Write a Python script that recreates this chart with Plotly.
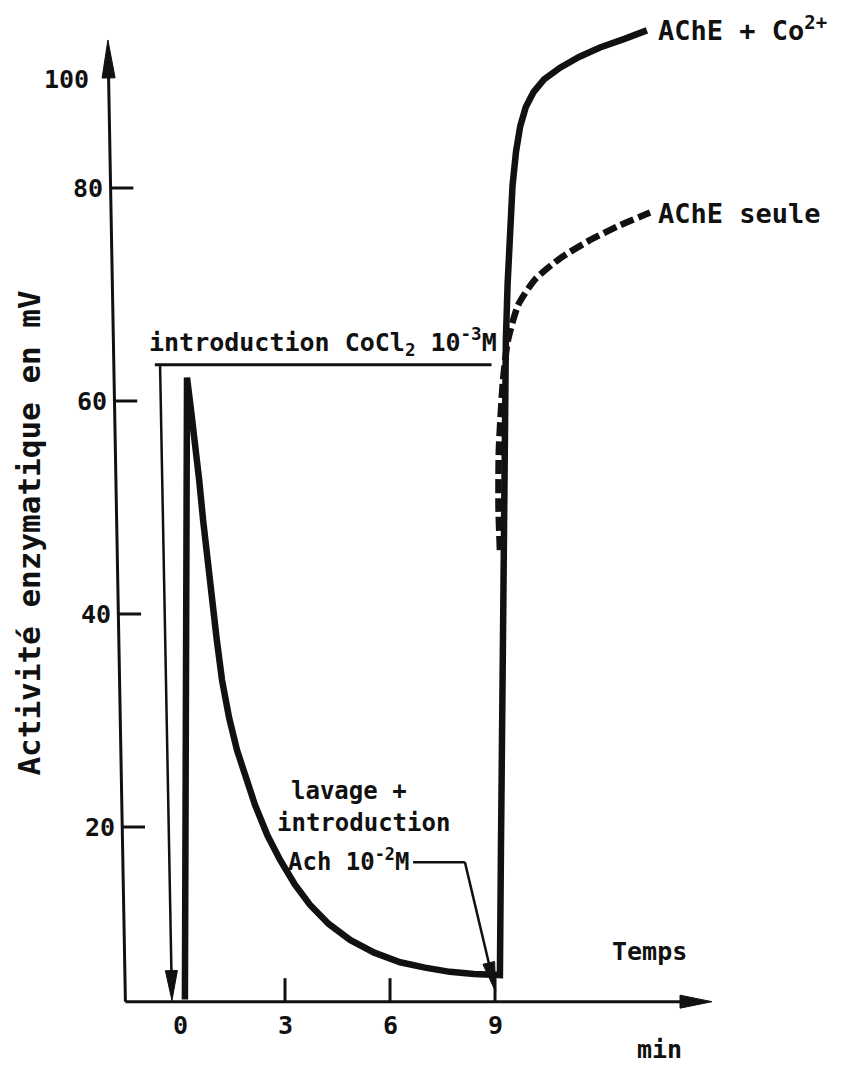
import plotly.graph_objects as go

# Enzymatic activity (mV) versus time (min)
t_co = [0.14, 0.20, 0.32, 0.43, 0.55, 0.66, 0.78, 0.91, 1.05, 1.20, 1.40, 1.63, 1.88, 2.14,
        2.50, 2.86, 3.28, 3.71, 4.25, 4.86, 5.55, 6.29, 7.00, 7.71, 8.40, 9.06,
        9.14, 9.17, 9.20, 9.26, 9.31, 9.36, 9.42, 9.50, 9.60, 9.72, 9.88, 10.10,
        10.40, 10.86, 11.40, 12.00, 12.70, 13.34]
v_co = [3.8, 62.2, 59.0, 56.3, 52.5, 48.8, 45.0, 41.3, 37.6, 33.8, 30.3, 27.2, 24.5, 22.1,
        19.2, 16.9, 14.6, 12.7, 10.9, 9.4, 8.2, 7.3, 6.8, 6.4, 6.2, 6.1,
        6.1, 18.0, 31.9, 55.4, 65.7, 71.0, 76.0, 80.2, 83.4, 85.8, 87.6, 89.0,
        90.2, 91.3, 92.3, 93.2, 94.0, 94.8]
t_seule = [9.14, 9.10, 9.11, 9.23, 9.37, 9.66, 10.14, 10.86, 11.71, 12.57, 13.43]
v_seule = [46.0, 50.0, 55.4, 62.0, 65.7, 69.0, 71.4, 73.4, 75.1, 76.5, 77.7]

x_ticks = [3, 6, 9]
x_labels = ["0", "3", "6", "9"]
x_label_pos = [0, 3, 6, 9]
y_ticks = [20, 40, 60, 80]
y_labels = ["20", "40", "60", "80"]

FONT = "DejaVu Sans Mono"
INK = "#111111"

X_RANGE = [-5.143, 19.257]
Y_RANGE = [-2.441, 97.653]
W, H = 854, 1066
PX_X = W / (X_RANGE[1] - X_RANGE[0])   # pixels per minute
PX_Y = H / (Y_RANGE[1] - Y_RANGE[0])   # pixels per mV

# plotting frame (data units)
X0, Y0 = -1.56, 3.6          # axis origin
X_END = 15.2                 # x-axis arrow tip
Y_END, X_TOP = 93.9, -2.06   # y-axis arrow tip (axis leans slightly)


def axis_x_at(v):
    return X0 + (X_TOP - X0) * (v - Y0) / (Y_END - Y0)


shapes = []


def arrow(x_tail, y_tail, x_tip, y_tip, width, head_len, head_half):
    """Straight shaft plus a slender filled head, sized in pixels."""
    dxp = (x_tip - x_tail) * PX_X
    dyp = (y_tip - y_tail) * PX_Y
    n = (dxp ** 2 + dyp ** 2) ** 0.5
    ux, uy = dxp / n, dyp / n
    bx = x_tip - ux * head_len / PX_X
    by = y_tip - uy * head_len / PX_Y
    px_, py_ = -uy, ux
    lx, ly = bx + px_ * head_half / PX_X, by + py_ * head_half / PX_Y
    rx, ry = bx - px_ * head_half / PX_X, by - py_ * head_half / PX_Y
    shapes.append(dict(type="line", x0=x_tail, y0=y_tail,
                       x1=x_tip - ux * head_len * 0.6 / PX_X, y1=y_tip - uy * head_len * 0.6 / PX_Y,
                       line=dict(color=INK, width=width)))
    shapes.append(dict(type="path", path=f"M{x_tip},{y_tip} L{lx},{ly} L{rx},{ry} Z",
                       fillcolor=INK, line=dict(color=INK, width=1)))


fig = go.Figure()

fig.add_trace(go.Scatter(x=t_co, y=v_co, mode="lines",
                         line=dict(color=INK, width=6.5, shape="linear"),
                         hoverinfo="skip", showlegend=False))
fig.add_trace(go.Scatter(x=t_seule, y=v_seule, mode="lines",
                         line=dict(color=INK, width=6.5, dash="14px,5px", shape="spline", smoothing=0.6),
                         hoverinfo="skip", showlegend=False))

# tick marks
for xv in x_ticks:
    shapes.append(dict(type="line", x0=xv, x1=xv, y0=Y0, y1=Y0 + 2.2,
                       line=dict(color=INK, width=3)))
for yv in y_ticks:
    xa = axis_x_at(yv)
    shapes.append(dict(type="line", x0=xa, x1=xa + 0.65, y0=yv, y1=yv,
                       line=dict(color=INK, width=3)))

# axes with arrowheads
arrow(X0, Y0, X_END, Y0, 3, 32, 6.5)
arrow(X0, Y0, X_TOP, Y_END, 3, 38, 6.5)

# bracket marking the CoCl2 introduction and its arrow down to the time axis
shapes.append(dict(type="line", x0=-0.72, x1=8.9, y0=63.4, y1=63.4,
                   line=dict(color=INK, width=3)))
arrow(-0.57, 63.4, -0.23, Y0 + 0.1, 2.5, 30, 6)

# leader of the Ach label, pointing at the start of the second rise
shapes.append(dict(type="line", x0=6.66, x1=8.14, y0=16.7, y1=16.7,
                   line=dict(color=INK, width=2.5)))
arrow(8.14, 16.7, 9.02, 4.5, 2.5, 30, 6)

annotations = []


def label(x, y, text, size, xanchor="center", angle=0, weight="bold"):
    annotations.append(dict(x=x, y=y, xref="x", yref="y", text=text, showarrow=False,
                            xanchor=xanchor, yanchor="middle", textangle=angle,
                            font=dict(family=FONT, size=size, color=INK, weight=weight)))


for xv, txt in zip(x_label_pos, x_labels):
    label(xv, 1.4, txt, 25)
for yv, txt in zip(y_ticks, y_labels):
    label(axis_x_at(yv) - 0.15, yv, txt, 25, xanchor="right")
label(-2.55, 90.2, "100", 25, xanchor="right")

label(-4.3, 47.6, "Activité enzymatique en mV", 31, angle=-90)
label(13.4, 8.3, "Temps", 25)
label(13.7, -0.9, "min", 25)
label(13.6, 95.0, "AChE + Co<sup>2+</sup>", 27, xanchor="left")
label(13.6, 77.6, "AChE seule", 27, xanchor="left")
label(-0.95, 65.5, "introduction CoCl<sub>2</sub> 10<sup>-3</sup>M", 25, xanchor="left")
label(3.1, 23.4, "lavage +", 24, xanchor="left")
label(2.7, 20.4, "introduction", 24, xanchor="left")
label(6.6, 16.9, "Ach 10<sup>-2</sup>M", 24, xanchor="right")

fig.update_layout(
    width=W, height=H,
    margin=dict(l=0, r=0, t=0, b=0),
    paper_bgcolor="white", plot_bgcolor="white",
    xaxis=dict(range=X_RANGE, visible=False, fixedrange=True),
    yaxis=dict(range=Y_RANGE, visible=False, fixedrange=True),
    shapes=shapes, annotations=annotations,
    font=dict(family=FONT, color=INK),
)

fig.write_html("out.html")
